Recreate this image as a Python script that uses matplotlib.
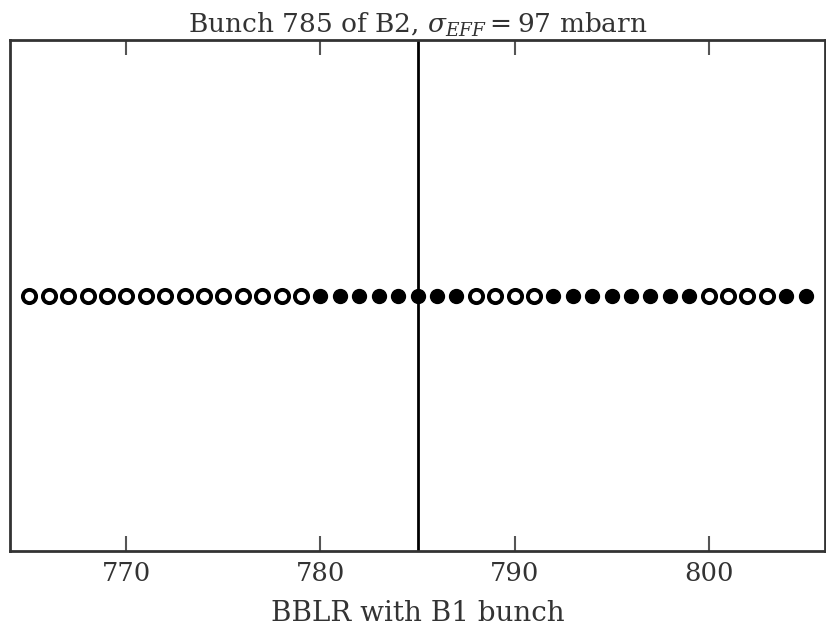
import matplotlib
matplotlib.use("Agg")
import matplotlib.pyplot as plt
import numpy as np

plt.rcParams['font.family'] = 'DejaVu Serif'
plt.rcParams['mathtext.fontset'] = 'dejavuserif'

bunches = list(range(765, 806))
# 1 = filled (encounter), 0 = open
filled = [0]*15 + [1]*8 + [0]*4 + [1]*8 + [0]*4 + [1]*2
ref_bunch = 785
xticks = [770, 780, 790, 800]

fig = plt.figure(figsize=(8.26, 6.27), dpi=100)
ax = fig.add_axes([10/826, 76/627, 815/826, 511/627])

b = np.array(bunches)
f = np.array(filled, dtype=bool)
ax.plot(b[~f], np.zeros((~f).sum()), 'o', ms=9.5, mfc='white', mec='black', mew=2.8, ls='none')
ax.plot(b[f], np.zeros(f.sum()), 'o', ms=10, mfc='black', mec='black', mew=1, ls='none')
ax.axvline(ref_bunch, color='black', lw=2)

ax.set_xlim(764, 806)
ax.set_ylim(-1, 1)
ax.set_yticks([])
ax.set_xticks(xticks)
ax.tick_params(axis='x', direction='in', length=11, width=1.5, color='#555555',
               top=True, labelsize=18.5, pad=7, labelcolor='#333333')
for s in ax.spines.values():
    s.set_linewidth(2)
    s.set_color('#333333')
ax.set_xlabel('BBLR with B1 bunch', fontsize=20, color='#333333', labelpad=10.5)
ax.set_title(r'Bunch 785 of B2, $\sigma_{EFF}=97$ mbarn', fontsize=19, color='#333333', pad=5)

fig.savefig('out.png', dpi=100)
